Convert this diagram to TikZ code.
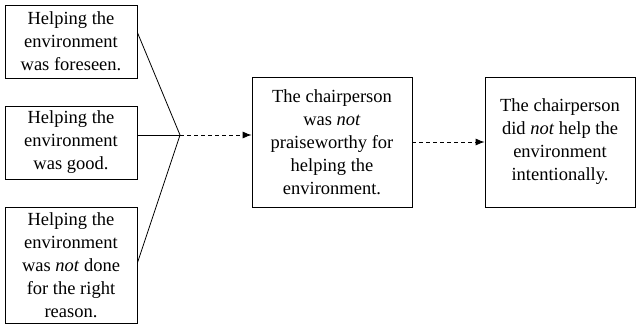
\documentclass[tikz,border=0pt]{standalone}
\usepackage{fontspec}
\setmainfont{Liberation Serif}
\usetikzlibrary{arrows.meta,calc}
\begin{document}
\begin{tikzpicture}[x=1pt,y=-1pt,
  box/.style={draw,line width=0.8pt,inner sep=0pt,align=center,
    font=\fontsize{18.5}{23}\selectfont},
  conn/.style={line width=0.8pt},
  darrow/.style={line width=0.8pt,dash pattern=on 4pt off 3pt,
    -{Latex[length=9pt,width=7pt]}}]
\useasboundingbox (0,0) rectangle (636,326);
\node[box,minimum width=132pt,minimum height=73pt] (b1) at (71,41.5)
  {Helping the\\environment\\was foreseen.};
\node[box,minimum width=132pt,minimum height=73pt] (b2) at (71,142.5)
  {Helping the\\environment\\was good.};
\node[box,minimum width=132pt,minimum height=116pt] (b3) at (71,265)
  {Helping the\\environment\\was \textit{not} done\\for the right\\reason.};
\node[box,minimum width=160pt,minimum height=130pt] (m) at (332,142)
  {The chairperson\\was \textit{not}\\praiseworthy for\\helping the\\environment.};
\node[box,minimum width=150pt,minimum height=130pt] (r) at (560,142)
  {The chairperson\\did \textit{not} help the\\environment\\intentionally.};
\coordinate (J) at (180,135);
\draw[conn] ([yshift=9pt]b1.east) -- (J);
\draw[conn] (b2.east |- J) -- (J);
\draw[conn] ([yshift=2pt]b3.east) -- (J);
\draw[darrow] (J) -- (J -| m.west);
\draw[darrow] (m.east) -- (r.west);
\end{tikzpicture}
\end{document}
